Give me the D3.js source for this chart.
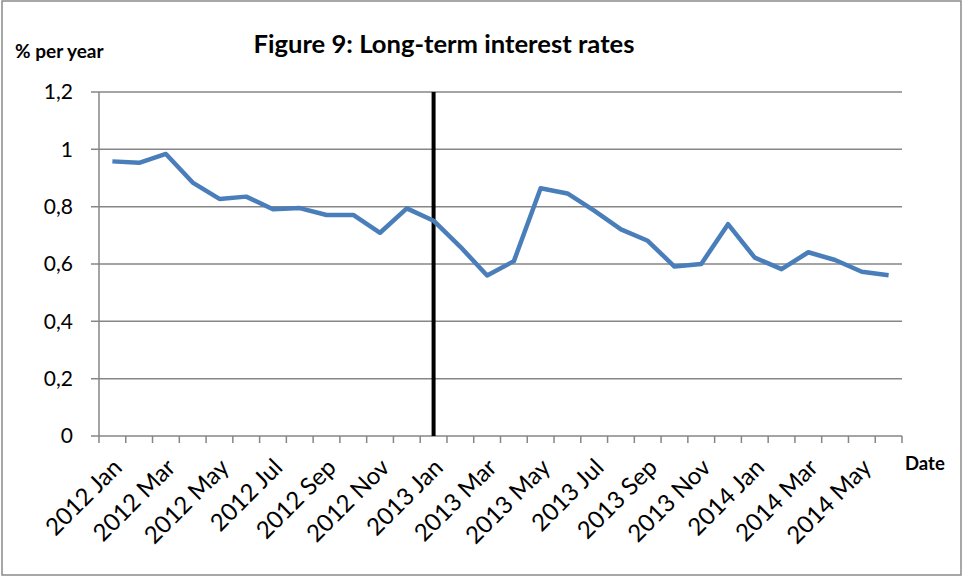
<!DOCTYPE html>
<html>
<head>
<meta charset="utf-8">
<script src="https://cdn.jsdelivr.net/npm/d3@7"></script>
<style>
  body { margin: 0; background: #fff; }
  text { font-family: Lato, "Open Sans", sans-serif; }
</style>
</head>
<body>
<div id="chart"></div>
<script>
// monthly long-term rates, 2012 Jan .. 2014 Jun
var years = ["2012", "2013", "2014"];
var monthNames = ["Jan", "Feb", "Mar", "Apr", "May", "Jun", "Jul", "Aug", "Sep", "Oct", "Nov", "Dec"];
var months = [];
years.forEach(function(yr) {
  monthNames.forEach(function(m) { months.push(yr + " " + m); });
});
months = months.slice(0, 30);

var rates = [0.958, 0.953, 0.984, 0.884, 0.827, 0.835, 0.791, 0.795, 0.771, 0.771, 0.709, 0.794,
             0.751, 0.660, 0.560, 0.610, 0.864, 0.846, 0.786, 0.721, 0.681, 0.591, 0.600, 0.739,
             0.622, 0.582, 0.641, 0.614, 0.573, 0.561];
var yTicks = [0, 0.2, 0.4, 0.6, 0.8, 1.0, 1.2];
var marker = "2013 Jan";

var W = 963, H = 577;
var plotLeft = 99, plotRight = 902, plotTop = 92, plotBottom = 436;

var svg = d3.select("#chart")
  .append("svg")
    .attr("width", W)
    .attr("height", H);

// outer frame
svg.append("rect")
  .attr("x", 2).attr("y", 1)
  .attr("width", 959).attr("height", 574)
  .style("fill", "none")
  .style("stroke", "#8a8a8a")
  .style("stroke-width", 1.5);

var x = d3.scaleBand()
    .domain(months)
    .range([plotLeft, plotRight]);

var y = d3.scaleLinear()
    .domain([0, 1.2])
    .range([plotBottom, plotTop]);

// gridlines
svg.selectAll(".grid")
  .data(yTicks)
  .enter()
  .append("line")
    .attr("x1", plotLeft - 8).attr("x2", plotRight)
    .attr("y1", function(d) { return y(d); })
    .attr("y2", function(d) { return y(d); })
    .style("stroke", "#868686")
    .style("stroke-width", 1.5);

// y axis line
svg.append("line")
  .attr("x1", plotLeft).attr("x2", plotLeft)
  .attr("y1", plotTop).attr("y2", plotBottom)
  .style("stroke", "#868686")
  .style("stroke-width", 1.5);

svg.selectAll(".ylab")
  .data(yTicks)
  .enter()
  .append("text")
    .attr("x", 73)
    .attr("y", function(d) { return y(d); })
    .attr("dy", "0.35em")
    .attr("text-anchor", "end")
    .style("font-size", "21px")
    .text(function(d) { return d3.format(".1~f")(d).replace(".", ","); });

// x ticks at band edges
var edges = months.map(function(m) { return x(m); }).concat([plotRight]);
svg.selectAll(".xtick")
  .data(edges)
  .enter()
  .append("line")
    .attr("x1", function(d) { return d; })
    .attr("x2", function(d) { return d; })
    .attr("y1", plotBottom).attr("y2", plotBottom + 7)
    .style("stroke", "#868686")
    .style("stroke-width", 1.5);

svg.selectAll(".xlab")
  .data(months.filter(function(d, i) { return i % 2 === 0; }))
  .enter()
  .append("text")
    .attr("text-anchor", "end")
    .attr("transform", function(d) {
      return "translate(" + (x(d) + x.bandwidth() / 2 + 11) + "," + (plotBottom + 33) + ") rotate(-45)";
    })
    .style("font-size", "24px")
    .text(function(d) { return d; });

// vertical marker
svg.append("line")
  .attr("x1", x(marker) + x.bandwidth() / 2)
  .attr("x2", x(marker) + x.bandwidth() / 2)
  .attr("y1", plotTop).attr("y2", plotBottom)
  .style("stroke", "#000")
  .style("stroke-width", 4);

var line = d3.line()
  .x(function(d, i) { return x(months[i]) + x.bandwidth() / 2; })
  .y(function(d) { return y(d); });

svg.append("path")
  .datum(rates)
  .attr("d", line)
  .style("fill", "none")
  .style("stroke", "#4a7ebb")
  .style("stroke-width", 4.5)
  .style("stroke-linejoin", "round");

svg.append("text")
  .attr("x", 444).attr("y", 53)
  .attr("text-anchor", "middle")
  .style("font-size", "25.6px")
  .style("font-weight", "bold")
  .text("Figure 9: Long-term interest rates");

svg.append("text")
  .attr("x", 15).attr("y", 58)
  .style("font-size", "19px")
  .style("font-weight", "bold")
  .text("% per year");

svg.append("text")
  .attr("x", 905).attr("y", 470)
  .style("font-size", "18.5px")
  .style("font-weight", "bold")
  .text("Date");
</script>
</body>
</html>
